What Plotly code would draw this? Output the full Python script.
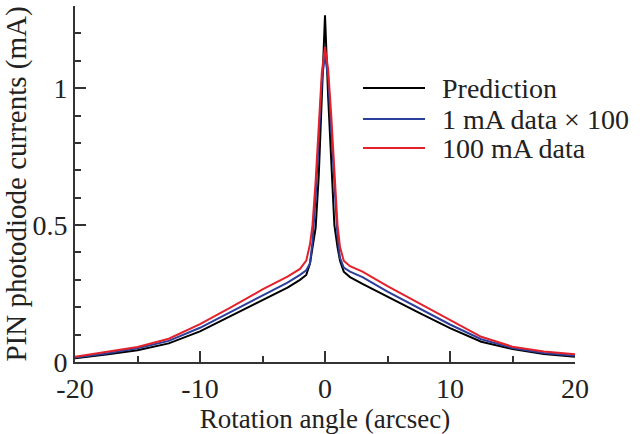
import plotly.graph_objects as go

angle = [-20, -17.5, -15, -12.5, -10, -7.5, -5, -3, -2, -1.5, -1.2, -1.0, -0.75, -0.5, -0.25,
         0, 0.25, 0.5, 0.75, 1.0, 1.2, 1.5, 2, 3, 5, 7.5, 10, 12.5, 15, 17.5, 20]

prediction = [0.014, 0.027, 0.043, 0.068, 0.112, 0.170, 0.226, 0.272, 0.300, 0.318, 0.360, 0.420,
              0.490, 0.680, 0.950, 1.266, 0.970, 0.720, 0.500, 0.420, 0.370, 0.330, 0.310, 0.285,
              0.238, 0.180, 0.124, 0.074, 0.047, 0.029, 0.019]

data_1mA = [0.016, 0.031, 0.050, 0.077, 0.125, 0.185, 0.245, 0.290, 0.318, 0.335, 0.360, 0.440,
            0.600, 0.820, 1.030, 1.120, 1.040, 0.850, 0.650, 0.460, 0.380, 0.345, 0.330, 0.310,
            0.257, 0.198, 0.137, 0.083, 0.051, 0.033, 0.023]

data_100mA = [0.019, 0.036, 0.055, 0.085, 0.138, 0.200, 0.265, 0.312, 0.340, 0.370, 0.430, 0.500,
              0.660, 0.860, 1.060, 1.150, 1.070, 0.900, 0.700, 0.500, 0.420, 0.370, 0.350, 0.330,
              0.277, 0.215, 0.151, 0.092, 0.056, 0.038, 0.028]

x_tickvals = [-20, -10, 0, 10, 20]
x_ticktext = ["-20", "-10", "0", "10", "20"]
y_tickvals = [0, 0.5, 1]
y_ticktext = ["0", "0.5", "1"]

series_names = ["Prediction", "1 mA data \u00d7 100", "100 mA data"]
series_colors = ["#000000", "#2b3f9c", "#e3222b"]
series_values = [prediction, data_1mA, data_100mA]

FONT = "Liberation Serif"
TXT = "#222222"

fig = go.Figure()
for name, color, vals in zip(series_names, series_colors, series_values):
    fig.add_trace(go.Scatter(x=angle, y=vals, mode="lines", name=name,
                             line=dict(color=color, width=2), showlegend=False))

# manual legend (paper coordinates) to match compact reference spacing
W, H = 640, 434
L, R, T, B = 75, 65, 6, 72
pw, ph = W - L - R, H - T - B
def px(xp):
    return (xp - L) / pw
def py(yp):
    return (H - B - yp) / ph
rows = [88, 119, 148]
for name, color, yrow in zip(series_names, series_colors, rows):
    fig.add_shape(type="line", xref="paper", yref="paper",
                  x0=px(363), x1=px(425), y0=py(yrow), y1=py(yrow),
                  line=dict(color=color, width=2))
    fig.add_annotation(xref="paper", yref="paper", x=px(440), y=py(yrow),
                       xanchor="left", yanchor="middle", showarrow=False,
                       text=name, font=dict(family=FONT, size=28, color=TXT))

fig.update_layout(
    width=W, height=H,
    margin=dict(l=L, r=R, t=T, b=B),
    paper_bgcolor="white", plot_bgcolor="white",
    font=dict(family=FONT, size=28, color=TXT),
    showlegend=False,
    xaxis=dict(range=[-20, 20], tickmode="array", tickvals=x_tickvals, ticktext=x_ticktext,
               ticks="inside", ticklen=11, tickwidth=1.5, tickcolor="#333333",
               showline=True, linewidth=2, linecolor="#333333", mirror=False,
               showgrid=False, zeroline=False, automargin=False,
               minor=dict(ticks="inside", tickvals=[-15, -5, 5, 15], ticklen=6, tickwidth=1.5,
                          tickcolor="#333333", showgrid=False),
               title=dict(text="Rotation angle (arcsec)", font=dict(family=FONT, size=27, color=TXT)),
               tickfont=dict(family=FONT, size=28, color=TXT)),
    yaxis=dict(range=[0, 1.3001], tickmode="array", tickvals=y_tickvals, ticktext=y_ticktext,
               ticks="inside", ticklen=11, tickwidth=1.5, tickcolor="#333333",
               showline=True, linewidth=2, linecolor="#333333", mirror=False,
               showgrid=False, zeroline=False, automargin=False,
               minor=dict(ticks="inside", tickvals=[0.1, 0.2, 0.3, 0.4, 0.6, 0.7, 0.8, 0.9, 1.1, 1.2, 1.3],
                          ticklen=6, tickwidth=1.5, tickcolor="#333333", showgrid=False),
               title=dict(text="PIN photodiode currents (mA)", font=dict(family=FONT, size=29, color=TXT)),
               tickfont=dict(family=FONT, size=28, color=TXT)),
)

fig.write_html("out.html")
